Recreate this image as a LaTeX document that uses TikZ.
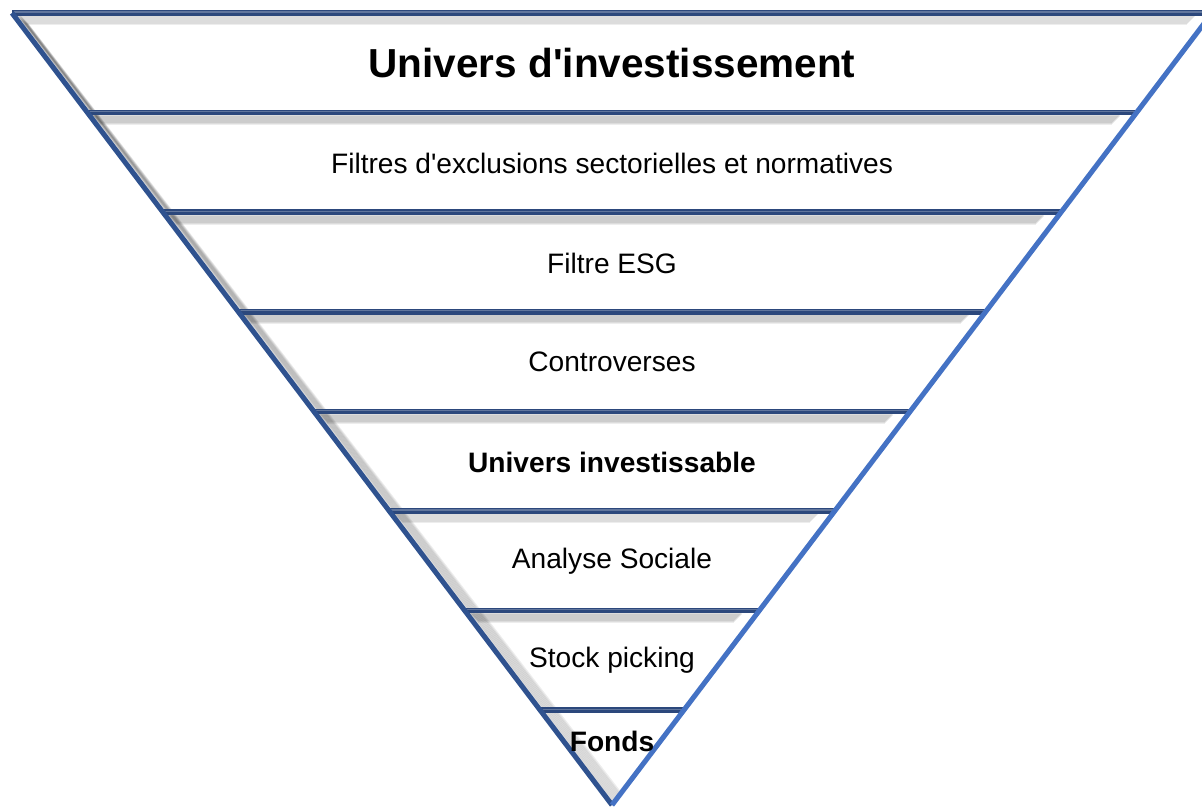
\documentclass[tikz,border=0pt]{standalone}
\usepackage{fontspec}
\setmainfont{Liberation Sans}[Ligatures=TeXOff]
\usetikzlibrary{positioning, calc}
\definecolor{edgedark}{RGB}{47,82,143}
\definecolor{edgelight}{RGB}{68,114,196}
\definecolor{barblue}{RGB}{44,72,124}
\tikzset{
  label/.style={font=\fontsize{20}{24}\selectfont, text=black, anchor=center},
  labelbold/.style={label, font=\fontsize{20}{24}\selectfont\bfseries},
  titlebold/.style={label, font=\fontsize{28.8}{34}\selectfont\bfseries},
  bar/.style={line width=4pt, color=barblue},
  barshadow/.style={line width=2pt, color=black, opacity=0.07}
}
\begin{document}
\begin{tikzpicture}[x=0.025cm,y=-0.025cm]
\useasboundingbox (0,0) rectangle (1202,810);
%corners of the funnel
\coordinate (tl) at (12,13);
\coordinate (tr) at (1212,13);
\coordinate (apex) at (612,805);
%soft shadows under the bars and along the left side
\foreach \d in {3,...,11}{
  \foreach \k in {0,...,6}{
    \pgfmathsetmacro\yy{13+99.6*\k}
    \pgfmathsetmacro\xl{12+(\yy-13)*0.75758}
    \pgfmathsetmacro\xr{1212-(\yy-13)*0.75758}
    \draw[barshadow] (\xl+\d+2,\yy+\d) -- (\xr-\d-14,\yy+\d);
  }
  \draw[barshadow] ($(tl)+(\d+4,\d)$) -- ($(apex)+(\d-2,-\d)$);
}
%bars
\foreach \k in {0,...,7}{
  \pgfmathsetmacro\yy{13+99.6*\k}
  \pgfmathsetmacro\xl{12+(\yy-13)*0.75758}
  \pgfmathsetmacro\xr{1212-(\yy-13)*0.75758}
  \draw[bar] (\xl,\yy) -- (\xr,\yy);
  \draw[line width=0.8pt, color=barblue!75!white] (\xl+2,\yy-1) -- (\xr-2,\yy-1);
}
%sides
\draw[line width=3.6pt, color=edgedark] (tl) -- (apex);
\draw[line width=3.6pt, color=edgelight] (tr) -- (apex);
%texts
\node[titlebold] (univers) at (612,63) {Univers d'investissement};
\node[label] (filtres) at (612,163) {Filtres d'exclusions sectorielles et normatives};
\node[label] (esg) at (612,263) {Filtre ESG};
\node[label] (controverses) at (612,362) {Controverses};
\node[labelbold] (investissable) at (612,462) {Univers investissable};
\node[label] (sociale) at (612,561) {Analyse Sociale};
\node[label] (picking) at (612,660) {Stock picking};
\node[labelbold] (fonds) at (612,741) {Fonds};
\end{tikzpicture}
\end{document}
